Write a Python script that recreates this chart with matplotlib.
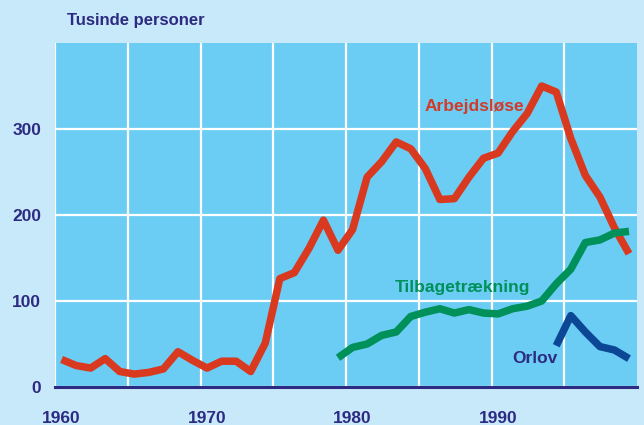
import numpy as np
import matplotlib
matplotlib.use("Agg")
from matplotlib import pyplot as plt

# data (thousands of persons), annual values
years_unemp = np.arange(1960, 2000)
unemployed = [32, 25, 22, 33, 18, 15, 17, 21, 41, 31,
              22, 30, 30, 18, 51, 126, 133, 161, 194, 159,
              183, 244, 262, 285, 277, 254, 218, 219, 244, 266,
              272, 297, 318, 350, 343, 289, 246, 221, 185, 155]

years_retire = np.arange(1979, 2000)
retirement = [34, 46, 50, 60, 64, 82, 87, 91, 86, 90,
              86, 85, 91, 94, 100, 120, 137, 168, 171, 179, 181]

years_leave = np.arange(1994, 2000)
leave = [48, 83, 64, 47, 43, 33]

decade_ticks = [1960, 1970, 1980, 1990]
y_ticks = [0, 100, 200, 300]

# colours
outer_bg = "#c8e9f9"
plot_bg = "#6bcdf4"
navy = "#2d2a82"
red = "#d9391f"
green = "#00905a"
blue = "#0c4796"

plt.rcParams["font.family"] = ["Liberation Sans", "DejaVu Sans"]
plt.rcParams["font.weight"] = "bold"

fig = plt.figure(figsize=(6.44, 4.25), dpi=100, facecolor=outer_bg)
ax = fig.add_axes([55 / 644, 38 / 425, 582 / 644, 344 / 425])
ax.set_facecolor(plot_bg)

# points plotted near mid-year
off = 0.45
ax.plot(years_unemp + off, unemployed, color=red, lw=5.4,
        solid_capstyle="butt", solid_joinstyle="round", zorder=3)
ax.plot(years_retire + off, retirement, color=green, lw=5.4,
        solid_capstyle="butt", solid_joinstyle="round", zorder=3)
ax.plot(years_leave + off, leave, color=blue, lw=5.4,
        solid_capstyle="butt", solid_joinstyle="round", zorder=3)

ax.set_xlim(1960, 2000)
ax.set_ylim(0, 400)

# grid
ax.set_xticks(np.arange(1960, 2000, 5), minor=True)
ax.set_xticks([d + off for d in decade_ticks], [str(d) for d in decade_ticks])
ax.set_yticks(y_ticks, [str(v) for v in y_ticks])
ax.grid(which="minor", axis="x", color="white", lw=1.6, zorder=1)
ax.grid(which="major", axis="y", color="white", lw=1.6, zorder=1)
ax.set_axisbelow(True)

ax.tick_params(which="both", length=0)
ax.tick_params(axis="x", pad=17, labelsize=12.5, labelcolor=navy)
ax.tick_params(axis="y", pad=10, labelsize=12.5, labelcolor=navy)

for s in ["top", "right", "left"]:
    ax.spines[s].set_visible(False)
ax.spines["bottom"].set_color(navy)
ax.spines["bottom"].set_linewidth(2.2)
ax.spines["bottom"].set_zorder(4)

# labels
fig.text(67 / 644, 1 - 20 / 425, "Tusinde personer", color=navy,
         fontsize=12, fontweight="bold", va="center", ha="left")
ax.text(1988.85, 326, "Arbejdsløse", color="#d23a2a", fontsize=12.5,
        fontweight="bold", ha="center", va="center")
ax.text(1988.0, 116, "Tilbagetrækning", color=green, fontsize=12.5,
        fontweight="bold", ha="center", va="center")
ax.text(1993.0, 33, "Orlov", color=navy, fontsize=12.5,
        fontweight="bold", ha="center", va="center")

fig.savefig("out.png", dpi=100, facecolor=outer_bg)
